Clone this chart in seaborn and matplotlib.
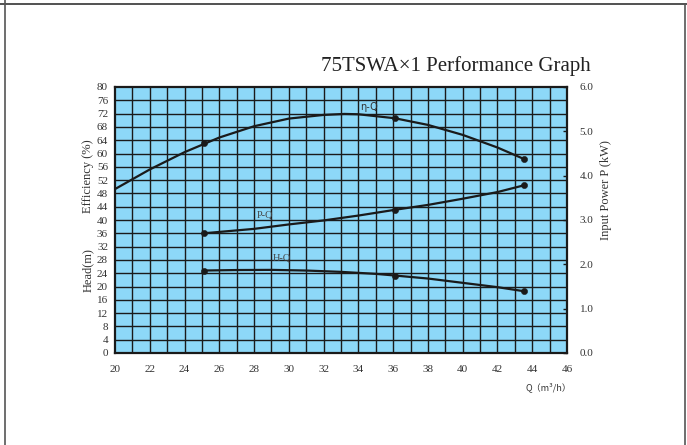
import numpy as np
import pandas as pd
import seaborn as sns
import matplotlib.pyplot as plt
from matplotlib.lines import Line2D

sns.set_theme(style="white")
plt.rcParams['font.family'] = ['Liberation Serif', 'DejaVu Serif']

# Test points (flow, m3/h)
q_pts = [25.1, 36.1, 43.5]
eff_pts = [63.2, 70.6, 58.4]      # efficiency, %
power_pts = [2.70, 3.23, 3.78]    # input power, kW
head_pts = [24.8, 23.3, 18.6]     # head, m

# Smoothed performance curves
q_eff = [20, 22, 24, 26, 28, 30, 32, 33.2, 34, 36.1, 38, 40, 42, 43.5]
eff_curve = [49.3, 55.2, 60.4, 64.8, 68.2, 70.5, 71.6, 71.9, 71.8, 70.6, 68.6, 65.6, 61.8, 58.4]
q_pow = [25.1, 28, 30, 32, 34, 36.1, 38, 40, 42, 43.5]
power_curve = [2.70, 2.80, 2.90, 2.99, 3.10, 3.23, 3.34, 3.48, 3.63, 3.78]
q_head = [25.1, 27, 29, 31, 33, 35, 36.1, 38, 40, 42, 43.5]
head_curve = [24.8, 24.95, 25.0, 24.8, 24.4, 23.8, 23.3, 22.4, 21.1, 19.8, 18.6]

x_ticks = list(range(20, 47, 2))
y_ticks = list(range(0, 81, 4))
p_ticks = [0.0, 1.0, 2.0, 3.0, 4.0, 5.0, 6.0]

P_SCALE = 80 / 6.0  # power plotted on the left scale

fig = plt.figure(figsize=(6.87, 4.45), dpi=100)
ax = fig.add_axes([115 / 687, 1 - 353 / 445, 452 / 687, 266 / 445])
ax.set_facecolor('#8DD8F8')
ax.set_xlim(20, 46)
ax.set_ylim(0, 80)

# grid: every 1 m3/h and every 4 units
for x in range(21, 46):
    ax.axvline(x, color='#1a1a1a', lw=1.0, zorder=1)
for y in range(4, 80, 4):
    ax.axhline(y, color='#1a1a1a', lw=1.0, zorder=1)

df_eff = pd.DataFrame({'Q': q_eff, 'v': eff_curve})
df_pow = pd.DataFrame({'Q': q_pow, 'v': [p * P_SCALE for p in power_curve]})
df_head = pd.DataFrame({'Q': q_head, 'v': head_curve})
for d in (df_eff, df_pow, df_head):
    sns.lineplot(data=d, x='Q', y='v', ax=ax, color='#1a1a1a', lw=1.6,
                 sort=False, zorder=3)

pts = pd.DataFrame({
    'Q': q_pts * 3,
    'v': eff_pts + [p * P_SCALE for p in power_pts] + head_pts,
})
sns.scatterplot(data=pts, x='Q', y='v', ax=ax, color='#1a1a1a', s=20,
                edgecolor='#1a1a1a', zorder=4)

lab_font = ['DejaVu Sans']
ax.text(34.6, 74.0, 'η-Q', fontsize=7, color='#333333', ha='center', va='center',
        family=lab_font)
ax.text(28.6, 41.5, 'P-Q', fontsize=7.5, color='#444444', ha='center', va='center')
ax.text(29.6, 28.7, 'H-Q', fontsize=7.5, color='#444444', ha='center', va='center')

ax.set_xticks(x_ticks)
ax.set_yticks(y_ticks)
ax.set_xticklabels([str(v) for v in x_ticks], fontsize=8, color='#333333')
ax.set_yticklabels([str(v) for v in y_ticks], fontsize=8, color='#333333')
ax.tick_params(axis='x', length=0, pad=9)
ax.tick_params(axis='y', length=0, pad=5)
ax.set_xlabel('')
ax.set_ylabel('')
for s in ax.spines.values():
    s.set_color('#1a1a1a')
    s.set_linewidth(1.6)
    s.set_zorder(5)

ax2 = ax.twinx()
ax2.set_ylim(0, 6)
ax2.set_yticks(p_ticks)
ax2.set_yticklabels([f'{v:.1f}' for v in p_ticks], fontsize=8, color='#333333')
ax2.tick_params(axis='y', length=3, width=1, direction='in', pad=9, color='#1a1a1a')
for s in ax2.spines.values():
    s.set_visible(False)

fig.text(88 / 687, 1 - 176 / 445, 'Efficiency (%)', rotation=90, fontsize=9,
         color='#333333', ha='center', va='center')
fig.text(88 / 687, 1 - 270 / 445, 'Head(m)', rotation=90, fontsize=9,
         color='#333333', ha='center', va='center')
fig.text(606 / 687, 1 - 190 / 445, 'Input Power P (kW)', rotation=90, fontsize=9,
         color='#333333', ha='center', va='center')
fig.text(548 / 687, 1 - 387 / 445, 'Q（m³/h）', fontsize=6.5, color='#333333',
         ha='center', va='center', family=['Noto Sans CJK SC', 'DejaVu Sans'])

fig.text(591 / 687, 1 - 66 / 445, '75TSWA×1 Performance Graph', fontsize=15,
         color='#222222', ha='right', va='center')

# page frame
fig.add_artist(Line2D([0, 1], [1 - 4 / 445, 1 - 4 / 445], color='#333333', lw=1.2,
                      transform=fig.transFigure))
fig.add_artist(Line2D([5 / 687, 5 / 687], [0, 1], color='#555555', lw=1.2,
                      transform=fig.transFigure))
fig.add_artist(Line2D([685 / 687, 685 / 687], [0, 1 - 4 / 445], color='#555555', lw=1.2,
                      transform=fig.transFigure))

fig.savefig('out.png', dpi=100)
